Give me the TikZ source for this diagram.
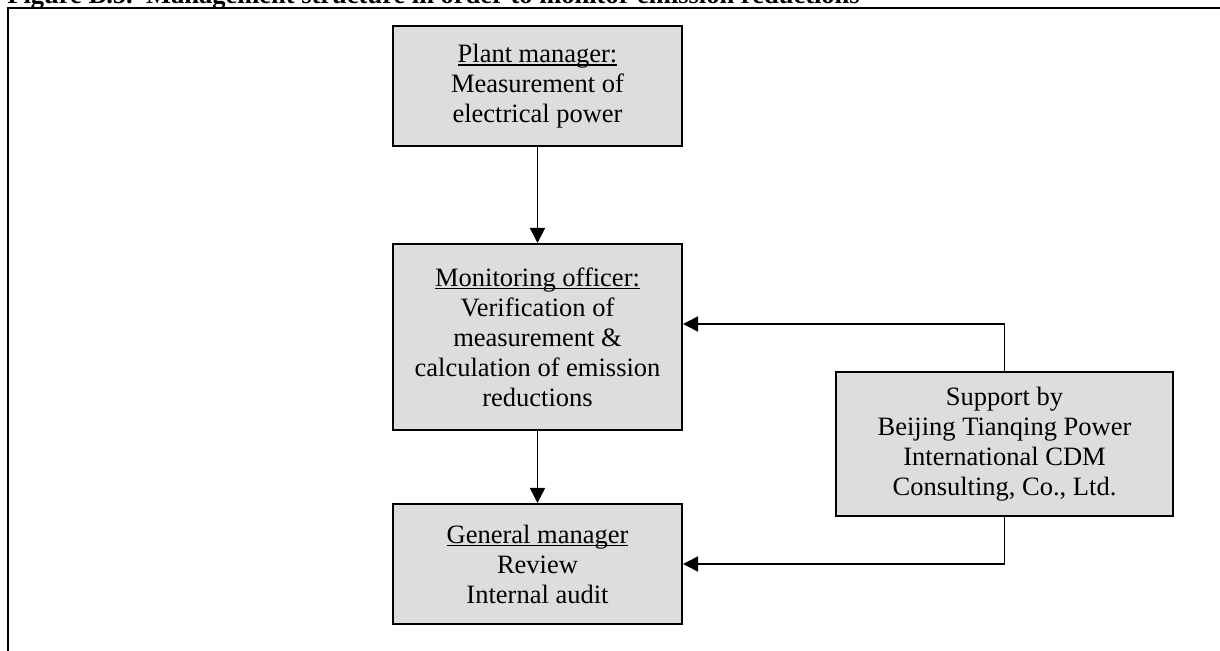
\documentclass[tikz,border=0pt]{standalone}
\usepackage{fontspec}
\setmainfont{Liberation Serif}
\usetikzlibrary{positioning,arrows.meta}
\newcommand{\headline}[1]{\setbox0\hbox{#1}\rlap{\rule[-1.6pt]{\wd0}{0.7pt}}\box0}

\begin{document}
\begin{tikzpicture}[
    x=0.5pt, y=-0.5pt,
    >={Triangle[length=7.5pt,width=7.5pt]},
    block/.style={draw, line width=1pt, fill=boxgray, rectangle, align=center,
        minimum width=144.5pt, font=\fontsize{13.25pt}{15pt}\selectfont},
    link/.style={->, line width=0.8pt}
]
\definecolor{boxgray}{HTML}{DDDDDD}
\clip (0,0) rectangle (1220,651);

% Title and frame
\node[anchor=base west, inner sep=0pt, font=\fontsize{13.25pt}{15pt}\selectfont\bfseries] (title) at (7,4)
    {Figure B.5.\ \ Management structure in order to monitor emission reductions};
\draw[line width=1.25pt] (8,660) -- (8,8) -- (1230,8);

% Boxes
\node[block, minimum height=60pt] (plant) at (537.5,86)
    {\headline{Plant manager:}\\ Measurement of\\ electrical power};
\node[block, minimum height=93pt, below=48pt of plant] (officer)
    {\headline{Monitoring officer:}\\ Verification of\\ measurement \&\\ calculation of emission\\ reductions};
\node[block, minimum height=60pt, below=36pt of officer] (general)
    {\headline{General manager}\\ Review\\ Internal audit};
\node[block, minimum width=168.5pt, minimum height=72pt, right=76pt of officer, yshift=-53.5pt] (support)
    {Support by\\ Beijing Tianqing Power\\ International CDM\\ Consulting, Co., Ltd.};

% Connections
\draw[link] (plant) -- (officer);
\draw[link] (officer) -- (general);
\draw[link] (support.north) |- ([yshift=6.5pt]officer.east);
\draw[link] (support.south) |- (general.east);

\end{tikzpicture}
\end{document}
